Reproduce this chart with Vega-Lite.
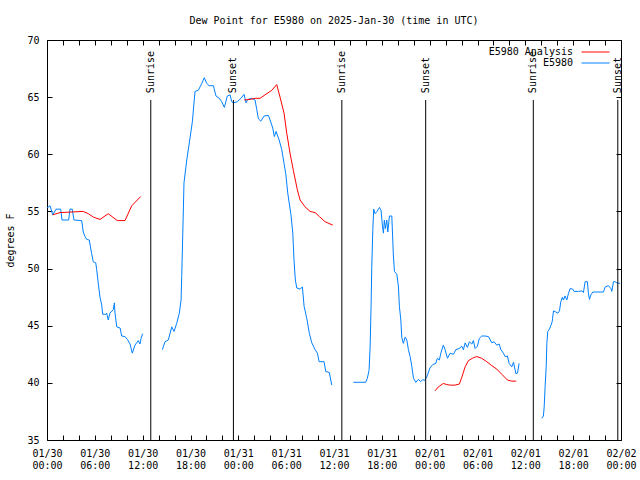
{
  "$schema": "https://vega.github.io/schema/vega-lite/v6.json",
  "width": 574,
  "height": 400,
  "autosize": "none",
  "padding": {"left": 47, "top": 40, "right": 19, "bottom": 40},
  "background": "white",
  "title": {"text": "Dew Point for E5980 on 2025-Jan-30 (time in UTC)", "font": "DejaVu Sans Mono", "fontSize": 10, "fontWeight": "normal", "anchor": "middle", "offset": 9, "color": "black"},
  "config": {
    "view": {"stroke": "black", "strokeWidth": 1},
    "axis": {"labelFont": "DejaVu Sans Mono", "labelFontSize": 10, "labelColor": "black", "titleFont": "DejaVu Sans Mono", "titleFontSize": 10, "titleFontWeight": "normal", "titleColor": "black", "domain": false, "grid": false, "tickColor": "black", "tickSize": -5, "labelFlush": false, "labelOverlap": false},
    "legend": {"orient": "none", "legendX": 543.5, "legendY": 7, "labelFont": "DejaVu Sans Mono", "labelFontSize": 10, "labelColor": "black", "labelLimit": 300, "symbolType": "M-4,0H4", "symbolSize": 49, "symbolStrokeWidth": 1, "labelAlign": "right", "labelOffset": -27.5, "padding": 0, "rowPadding": 1}
  },
  "datasets": {
    "sun": [
      {"t": "2025-01-30T13:01:00Z", "label": "Sunrise"},
      {"t": "2025-01-30T23:23:00Z", "label": "Sunset"},
      {"t": "2025-01-31T12:59:00Z", "label": "Sunrise"},
      {"t": "2025-01-31T23:30:00Z", "label": "Sunset"},
      {"t": "2025-02-01T13:00:00Z", "label": "Sunrise"},
      {"t": "2025-02-01T23:36:00Z", "label": "Sunset"}
    ],
    "obs": [
      {"t": "2025-01-30T00:00:00Z", "v": 55.3, "s": "E5980", "g": "b1"},
      {"t": "2025-01-30T00:23:00Z", "v": 55.5, "s": "E5980", "g": "b1"},
      {"t": "2025-01-30T00:43:00Z", "v": 54.7, "s": "E5980", "g": "b1"},
      {"t": "2025-01-30T01:08:00Z", "v": 55.2, "s": "E5980", "g": "b1"},
      {"t": "2025-01-30T01:43:00Z", "v": 55.2, "s": "E5980", "g": "b1"},
      {"t": "2025-01-30T01:53:00Z", "v": 54.25, "s": "E5980", "g": "b1"},
      {"t": "2025-01-30T02:43:00Z", "v": 54.25, "s": "E5980", "g": "b1"},
      {"t": "2025-01-30T02:53:00Z", "v": 55.2, "s": "E5980", "g": "b1"},
      {"t": "2025-01-30T03:10:00Z", "v": 55.2, "s": "E5980", "g": "b1"},
      {"t": "2025-01-30T03:23:00Z", "v": 54.25, "s": "E5980", "g": "b1"},
      {"t": "2025-01-30T04:21:00Z", "v": 54.2, "s": "E5980", "g": "b1"},
      {"t": "2025-01-30T04:33:00Z", "v": 53.2, "s": "E5980", "g": "b1"},
      {"t": "2025-01-30T04:46:00Z", "v": 52.8, "s": "E5980", "g": "b1"},
      {"t": "2025-01-30T04:59:00Z", "v": 52.55, "s": "E5980", "g": "b1"},
      {"t": "2025-01-30T05:18:00Z", "v": 52.5, "s": "E5980", "g": "b1"},
      {"t": "2025-01-30T05:36:00Z", "v": 51.3, "s": "E5980", "g": "b1"},
      {"t": "2025-01-30T05:48:00Z", "v": 50.6, "s": "E5980", "g": "b1"},
      {"t": "2025-01-30T06:07:00Z", "v": 50.5, "s": "E5980", "g": "b1"},
      {"t": "2025-01-30T06:14:00Z", "v": 49.9, "s": "E5980", "g": "b1"},
      {"t": "2025-01-30T06:29:00Z", "v": 48.4, "s": "E5980", "g": "b1"},
      {"t": "2025-01-30T06:39:00Z", "v": 47.5, "s": "E5980", "g": "b1"},
      {"t": "2025-01-30T06:52:00Z", "v": 46.8, "s": "E5980", "g": "b1"},
      {"t": "2025-01-30T06:59:00Z", "v": 46.0, "s": "E5980", "g": "b1"},
      {"t": "2025-01-30T07:22:00Z", "v": 46.0, "s": "E5980", "g": "b1"},
      {"t": "2025-01-30T07:29:00Z", "v": 46.1, "s": "E5980", "g": "b1"},
      {"t": "2025-01-30T07:41:00Z", "v": 45.5, "s": "E5980", "g": "b1"},
      {"t": "2025-01-30T07:54:00Z", "v": 46.1, "s": "E5980", "g": "b1"},
      {"t": "2025-01-30T08:19:00Z", "v": 46.4, "s": "E5980", "g": "b1"},
      {"t": "2025-01-30T08:27:00Z", "v": 47.0, "s": "E5980", "g": "b1"},
      {"t": "2025-01-30T08:32:00Z", "v": 46.1, "s": "E5980", "g": "b1"},
      {"t": "2025-01-30T08:45:00Z", "v": 44.9, "s": "E5980", "g": "b1"},
      {"t": "2025-01-30T09:10:00Z", "v": 44.8, "s": "E5980", "g": "b1"},
      {"t": "2025-01-30T09:22:00Z", "v": 44.1, "s": "E5980", "g": "b1"},
      {"t": "2025-01-30T09:47:00Z", "v": 44.05, "s": "E5980", "g": "b1"},
      {"t": "2025-01-30T10:05:00Z", "v": 43.8, "s": "E5980", "g": "b1"},
      {"t": "2025-01-30T10:25:00Z", "v": 43.4, "s": "E5980", "g": "b1"},
      {"t": "2025-01-30T10:42:00Z", "v": 42.6, "s": "E5980", "g": "b1"},
      {"t": "2025-01-30T11:02:00Z", "v": 43.3, "s": "E5980", "g": "b1"},
      {"t": "2025-01-30T11:27:00Z", "v": 43.7, "s": "E5980", "g": "b1"},
      {"t": "2025-01-30T11:40:00Z", "v": 43.4, "s": "E5980", "g": "b1"},
      {"t": "2025-01-30T11:48:00Z", "v": 43.9, "s": "E5980", "g": "b1"},
      {"t": "2025-01-30T12:00:00Z", "v": 44.3, "s": "E5980", "g": "b1"},
      {"t": "2025-01-30T14:28:00Z", "v": 42.9, "s": "E5980", "g": "b2"},
      {"t": "2025-01-30T14:48:00Z", "v": 43.6, "s": "E5980", "g": "b2"},
      {"t": "2025-01-30T15:13:00Z", "v": 43.75, "s": "E5980", "g": "b2"},
      {"t": "2025-01-30T15:39:00Z", "v": 44.9, "s": "E5980", "g": "b2"},
      {"t": "2025-01-30T15:56:00Z", "v": 44.5, "s": "E5980", "g": "b2"},
      {"t": "2025-01-30T16:16:00Z", "v": 45.2, "s": "E5980", "g": "b2"},
      {"t": "2025-01-30T16:36:00Z", "v": 46.1, "s": "E5980", "g": "b2"},
      {"t": "2025-01-30T16:49:00Z", "v": 47.25, "s": "E5980", "g": "b2"},
      {"t": "2025-01-30T16:54:00Z", "v": 49.3, "s": "E5980", "g": "b2"},
      {"t": "2025-01-30T17:02:00Z", "v": 53.1, "s": "E5980", "g": "b2"},
      {"t": "2025-01-30T17:11:00Z", "v": 57.5, "s": "E5980", "g": "b2"},
      {"t": "2025-01-30T17:32:00Z", "v": 59.5, "s": "E5980", "g": "b2"},
      {"t": "2025-01-30T17:51:00Z", "v": 61.0, "s": "E5980", "g": "b2"},
      {"t": "2025-01-30T18:14:00Z", "v": 62.85, "s": "E5980", "g": "b2"},
      {"t": "2025-01-30T18:34:00Z", "v": 65.5, "s": "E5980", "g": "b2"},
      {"t": "2025-01-30T18:59:00Z", "v": 65.6, "s": "E5980", "g": "b2"},
      {"t": "2025-01-30T19:25:00Z", "v": 66.2, "s": "E5980", "g": "b2"},
      {"t": "2025-01-30T19:44:00Z", "v": 66.7, "s": "E5980", "g": "b2"},
      {"t": "2025-01-30T20:02:00Z", "v": 66.2, "s": "E5980", "g": "b2"},
      {"t": "2025-01-30T20:20:00Z", "v": 66.0, "s": "E5980", "g": "b2"},
      {"t": "2025-01-30T20:52:00Z", "v": 66.0, "s": "E5980", "g": "b2"},
      {"t": "2025-01-30T21:12:00Z", "v": 65.1, "s": "E5980", "g": "b2"},
      {"t": "2025-01-30T21:37:00Z", "v": 64.9, "s": "E5980", "g": "b2"},
      {"t": "2025-01-30T21:55:00Z", "v": 64.6, "s": "E5980", "g": "b2"},
      {"t": "2025-01-30T22:15:00Z", "v": 64.1, "s": "E5980", "g": "b2"},
      {"t": "2025-01-30T22:37:00Z", "v": 65.1, "s": "E5980", "g": "b2"},
      {"t": "2025-01-30T22:58:00Z", "v": 65.2, "s": "E5980", "g": "b2"},
      {"t": "2025-01-30T23:10:00Z", "v": 64.6, "s": "E5980", "g": "b2"},
      {"t": "2025-01-30T23:23:00Z", "v": 64.5, "s": "E5980", "g": "b2"},
      {"t": "2025-01-30T23:53:00Z", "v": 64.6, "s": "E5980", "g": "b2"},
      {"t": "2025-01-31T00:20:00Z", "v": 64.9, "s": "E5980", "g": "b2"},
      {"t": "2025-01-31T00:43:00Z", "v": 65.25, "s": "E5980", "g": "b2"},
      {"t": "2025-01-31T00:58:00Z", "v": 64.5, "s": "E5980", "g": "b2"},
      {"t": "2025-01-31T01:11:00Z", "v": 64.8, "s": "E5980", "g": "b2"},
      {"t": "2025-01-31T01:41:00Z", "v": 64.9, "s": "E5980", "g": "b2"},
      {"t": "2025-01-31T02:06:00Z", "v": 64.75, "s": "E5980", "g": "b2"},
      {"t": "2025-01-31T02:19:00Z", "v": 63.9, "s": "E5980", "g": "b2"},
      {"t": "2025-01-31T02:31:00Z", "v": 63.1, "s": "E5980", "g": "b2"},
      {"t": "2025-01-31T02:49:00Z", "v": 62.9, "s": "E5980", "g": "b2"},
      {"t": "2025-01-31T03:14:00Z", "v": 63.35, "s": "E5980", "g": "b2"},
      {"t": "2025-01-31T03:46:00Z", "v": 63.4, "s": "E5980", "g": "b2"},
      {"t": "2025-01-31T03:59:00Z", "v": 63.0, "s": "E5980", "g": "b2"},
      {"t": "2025-01-31T04:19:00Z", "v": 62.3, "s": "E5980", "g": "b2"},
      {"t": "2025-01-31T04:31:00Z", "v": 61.55, "s": "E5980", "g": "b2"},
      {"t": "2025-01-31T04:44:00Z", "v": 62.0, "s": "E5980", "g": "b2"},
      {"t": "2025-01-31T05:07:00Z", "v": 61.25, "s": "E5980", "g": "b2"},
      {"t": "2025-01-31T05:27:00Z", "v": 60.4, "s": "E5980", "g": "b2"},
      {"t": "2025-01-31T05:44:00Z", "v": 59.2, "s": "E5980", "g": "b2"},
      {"t": "2025-01-31T05:57:00Z", "v": 58.3, "s": "E5980", "g": "b2"},
      {"t": "2025-01-31T06:12:00Z", "v": 56.6, "s": "E5980", "g": "b2"},
      {"t": "2025-01-31T06:35:00Z", "v": 54.8, "s": "E5980", "g": "b2"},
      {"t": "2025-01-31T06:50:00Z", "v": 53.1, "s": "E5980", "g": "b2"},
      {"t": "2025-01-31T06:59:00Z", "v": 50.75, "s": "E5980", "g": "b2"},
      {"t": "2025-01-31T07:09:00Z", "v": 49.0, "s": "E5980", "g": "b2"},
      {"t": "2025-01-31T07:20:00Z", "v": 48.3, "s": "E5980", "g": "b2"},
      {"t": "2025-01-31T07:45:00Z", "v": 48.2, "s": "E5980", "g": "b2"},
      {"t": "2025-01-31T08:02:00Z", "v": 48.4, "s": "E5980", "g": "b2"},
      {"t": "2025-01-31T08:15:00Z", "v": 46.7, "s": "E5980", "g": "b2"},
      {"t": "2025-01-31T08:35:00Z", "v": 45.65, "s": "E5980", "g": "b2"},
      {"t": "2025-01-31T08:55:00Z", "v": 44.3, "s": "E5980", "g": "b2"},
      {"t": "2025-01-31T09:13:00Z", "v": 43.5, "s": "E5980", "g": "b2"},
      {"t": "2025-01-31T09:38:00Z", "v": 42.9, "s": "E5980", "g": "b2"},
      {"t": "2025-01-31T09:55:00Z", "v": 42.6, "s": "E5980", "g": "b2"},
      {"t": "2025-01-31T10:08:00Z", "v": 41.85, "s": "E5980", "g": "b2"},
      {"t": "2025-01-31T10:45:00Z", "v": 41.85, "s": "E5980", "g": "b2"},
      {"t": "2025-01-31T10:58:00Z", "v": 41.0, "s": "E5980", "g": "b2"},
      {"t": "2025-01-31T11:25:00Z", "v": 40.9, "s": "E5980", "g": "b2"},
      {"t": "2025-01-31T11:43:00Z", "v": 39.8, "s": "E5980", "g": "b2"},
      {"t": "2025-01-31T14:26:00Z", "v": 40.05, "s": "E5980", "g": "b3"},
      {"t": "2025-01-31T15:59:00Z", "v": 40.05, "s": "E5980", "g": "b3"},
      {"t": "2025-01-31T16:11:00Z", "v": 40.4, "s": "E5980", "g": "b3"},
      {"t": "2025-01-31T16:24:00Z", "v": 41.1, "s": "E5980", "g": "b3"},
      {"t": "2025-01-31T16:32:00Z", "v": 43.2, "s": "E5980", "g": "b3"},
      {"t": "2025-01-31T16:39:00Z", "v": 46.7, "s": "E5980", "g": "b3"},
      {"t": "2025-01-31T16:44:00Z", "v": 50.0, "s": "E5980", "g": "b3"},
      {"t": "2025-01-31T16:52:00Z", "v": 53.4, "s": "E5980", "g": "b3"},
      {"t": "2025-01-31T16:59:00Z", "v": 55.2, "s": "E5980", "g": "b3"},
      {"t": "2025-01-31T17:09:00Z", "v": 54.8, "s": "E5980", "g": "b3"},
      {"t": "2025-01-31T17:24:00Z", "v": 55.0, "s": "E5980", "g": "b3"},
      {"t": "2025-01-31T17:42:00Z", "v": 55.35, "s": "E5980", "g": "b3"},
      {"t": "2025-01-31T17:54:00Z", "v": 55.1, "s": "E5980", "g": "b3"},
      {"t": "2025-01-31T18:04:00Z", "v": 53.8, "s": "E5980", "g": "b3"},
      {"t": "2025-01-31T18:12:00Z", "v": 53.1, "s": "E5980", "g": "b3"},
      {"t": "2025-01-31T18:19:00Z", "v": 54.25, "s": "E5980", "g": "b3"},
      {"t": "2025-01-31T18:27:00Z", "v": 53.5, "s": "E5980", "g": "b3"},
      {"t": "2025-01-31T18:37:00Z", "v": 54.25, "s": "E5980", "g": "b3"},
      {"t": "2025-01-31T18:45:00Z", "v": 53.2, "s": "E5980", "g": "b3"},
      {"t": "2025-01-31T18:57:00Z", "v": 54.6, "s": "E5980", "g": "b3"},
      {"t": "2025-01-31T19:15:00Z", "v": 54.6, "s": "E5980", "g": "b3"},
      {"t": "2025-01-31T19:27:00Z", "v": 51.1, "s": "E5980", "g": "b3"},
      {"t": "2025-01-31T19:35:00Z", "v": 49.75, "s": "E5980", "g": "b3"},
      {"t": "2025-01-31T19:53:00Z", "v": 49.5, "s": "E5980", "g": "b3"},
      {"t": "2025-01-31T20:05:00Z", "v": 48.4, "s": "E5980", "g": "b3"},
      {"t": "2025-01-31T20:12:00Z", "v": 46.7, "s": "E5980", "g": "b3"},
      {"t": "2025-01-31T20:23:00Z", "v": 45.5, "s": "E5980", "g": "b3"},
      {"t": "2025-01-31T20:30:00Z", "v": 44.0, "s": "E5980", "g": "b3"},
      {"t": "2025-01-31T20:42:00Z", "v": 43.45, "s": "E5980", "g": "b3"},
      {"t": "2025-01-31T20:55:00Z", "v": 44.0, "s": "E5980", "g": "b3"},
      {"t": "2025-01-31T21:08:00Z", "v": 43.75, "s": "E5980", "g": "b3"},
      {"t": "2025-01-31T21:20:00Z", "v": 42.9, "s": "E5980", "g": "b3"},
      {"t": "2025-01-31T21:33:00Z", "v": 42.3, "s": "E5980", "g": "b3"},
      {"t": "2025-01-31T21:46:00Z", "v": 41.4, "s": "E5980", "g": "b3"},
      {"t": "2025-01-31T21:58:00Z", "v": 40.4, "s": "E5980", "g": "b3"},
      {"t": "2025-01-31T22:16:00Z", "v": 40.05, "s": "E5980", "g": "b3"},
      {"t": "2025-01-31T22:35:00Z", "v": 40.3, "s": "E5980", "g": "b3"},
      {"t": "2025-01-31T22:53:00Z", "v": 40.1, "s": "E5980", "g": "b3"},
      {"t": "2025-01-31T23:08:00Z", "v": 40.3, "s": "E5980", "g": "b3"},
      {"t": "2025-01-31T23:20:00Z", "v": 40.2, "s": "E5980", "g": "b3"},
      {"t": "2025-01-31T23:38:00Z", "v": 40.5, "s": "E5980", "g": "b3"},
      {"t": "2025-02-01T00:02:00Z", "v": 41.3, "s": "E5980", "g": "b3"},
      {"t": "2025-02-01T00:23:00Z", "v": 41.6, "s": "E5980", "g": "b3"},
      {"t": "2025-02-01T00:46:00Z", "v": 41.7, "s": "E5980", "g": "b3"},
      {"t": "2025-02-01T00:58:00Z", "v": 42.15, "s": "E5980", "g": "b3"},
      {"t": "2025-02-01T01:13:00Z", "v": 42.0, "s": "E5980", "g": "b3"},
      {"t": "2025-02-01T01:24:00Z", "v": 42.6, "s": "E5980", "g": "b3"},
      {"t": "2025-02-01T01:43:00Z", "v": 43.3, "s": "E5980", "g": "b3"},
      {"t": "2025-02-01T01:56:00Z", "v": 42.9, "s": "E5980", "g": "b3"},
      {"t": "2025-02-01T02:14:00Z", "v": 42.15, "s": "E5980", "g": "b3"},
      {"t": "2025-02-01T02:34:00Z", "v": 42.6, "s": "E5980", "g": "b3"},
      {"t": "2025-02-01T02:59:00Z", "v": 42.5, "s": "E5980", "g": "b3"},
      {"t": "2025-02-01T03:17:00Z", "v": 42.9, "s": "E5980", "g": "b3"},
      {"t": "2025-02-01T03:41:00Z", "v": 43.0, "s": "E5980", "g": "b3"},
      {"t": "2025-02-01T04:02:00Z", "v": 43.2, "s": "E5980", "g": "b3"},
      {"t": "2025-02-01T04:14:00Z", "v": 42.9, "s": "E5980", "g": "b3"},
      {"t": "2025-02-01T04:27:00Z", "v": 43.5, "s": "E5980", "g": "b3"},
      {"t": "2025-02-01T04:44:00Z", "v": 43.1, "s": "E5980", "g": "b3"},
      {"t": "2025-02-01T04:59:00Z", "v": 43.6, "s": "E5980", "g": "b3"},
      {"t": "2025-02-01T05:17:00Z", "v": 43.4, "s": "E5980", "g": "b3"},
      {"t": "2025-02-01T05:29:00Z", "v": 43.7, "s": "E5980", "g": "b3"},
      {"t": "2025-02-01T05:42:00Z", "v": 43.0, "s": "E5980", "g": "b3"},
      {"t": "2025-02-01T05:59:00Z", "v": 43.2, "s": "E5980", "g": "b3"},
      {"t": "2025-02-01T06:14:00Z", "v": 43.9, "s": "E5980", "g": "b3"},
      {"t": "2025-02-01T06:32:00Z", "v": 44.1, "s": "E5980", "g": "b3"},
      {"t": "2025-02-01T06:57:00Z", "v": 44.1, "s": "E5980", "g": "b3"},
      {"t": "2025-02-01T07:22:00Z", "v": 44.05, "s": "E5980", "g": "b3"},
      {"t": "2025-02-01T07:48:00Z", "v": 43.5, "s": "E5980", "g": "b3"},
      {"t": "2025-02-01T08:05:00Z", "v": 43.6, "s": "E5980", "g": "b3"},
      {"t": "2025-02-01T08:25:00Z", "v": 43.3, "s": "E5980", "g": "b3"},
      {"t": "2025-02-01T08:43:00Z", "v": 43.4, "s": "E5980", "g": "b3"},
      {"t": "2025-02-01T08:56:00Z", "v": 42.9, "s": "E5980", "g": "b3"},
      {"t": "2025-02-01T09:15:00Z", "v": 42.6, "s": "E5980", "g": "b3"},
      {"t": "2025-02-01T09:28:00Z", "v": 42.3, "s": "E5980", "g": "b3"},
      {"t": "2025-02-01T09:45:00Z", "v": 42.35, "s": "E5980", "g": "b3"},
      {"t": "2025-02-01T09:58:00Z", "v": 41.7, "s": "E5980", "g": "b3"},
      {"t": "2025-02-01T10:18:00Z", "v": 41.4, "s": "E5980", "g": "b3"},
      {"t": "2025-02-01T10:31:00Z", "v": 41.8, "s": "E5980", "g": "b3"},
      {"t": "2025-02-01T10:49:00Z", "v": 40.8, "s": "E5980", "g": "b3"},
      {"t": "2025-02-01T11:01:00Z", "v": 40.85, "s": "E5980", "g": "b3"},
      {"t": "2025-02-01T11:13:00Z", "v": 41.7, "s": "E5980", "g": "b3"},
      {"t": "2025-02-01T14:04:00Z", "v": 36.9, "s": "E5980", "g": "b4"},
      {"t": "2025-02-01T14:16:00Z", "v": 37.1, "s": "E5980", "g": "b4"},
      {"t": "2025-02-01T14:22:00Z", "v": 37.9, "s": "E5980", "g": "b4"},
      {"t": "2025-02-01T14:29:00Z", "v": 39.7, "s": "E5980", "g": "b4"},
      {"t": "2025-02-01T14:37:00Z", "v": 41.4, "s": "E5980", "g": "b4"},
      {"t": "2025-02-01T14:42:00Z", "v": 43.45, "s": "E5980", "g": "b4"},
      {"t": "2025-02-01T14:49:00Z", "v": 44.5, "s": "E5980", "g": "b4"},
      {"t": "2025-02-01T15:01:00Z", "v": 44.7, "s": "E5980", "g": "b4"},
      {"t": "2025-02-01T15:12:00Z", "v": 45.0, "s": "E5980", "g": "b4"},
      {"t": "2025-02-01T15:22:00Z", "v": 45.35, "s": "E5980", "g": "b4"},
      {"t": "2025-02-01T15:32:00Z", "v": 46.3, "s": "E5980", "g": "b4"},
      {"t": "2025-02-01T15:50:00Z", "v": 46.2, "s": "E5980", "g": "b4"},
      {"t": "2025-02-01T16:05:00Z", "v": 46.1, "s": "E5980", "g": "b4"},
      {"t": "2025-02-01T16:17:00Z", "v": 46.3, "s": "E5980", "g": "b4"},
      {"t": "2025-02-01T16:27:00Z", "v": 47.1, "s": "E5980", "g": "b4"},
      {"t": "2025-02-01T16:39:00Z", "v": 47.5, "s": "E5980", "g": "b4"},
      {"t": "2025-02-01T16:47:00Z", "v": 47.25, "s": "E5980", "g": "b4"},
      {"t": "2025-02-01T16:59:00Z", "v": 47.6, "s": "E5980", "g": "b4"},
      {"t": "2025-02-01T17:12:00Z", "v": 47.25, "s": "E5980", "g": "b4"},
      {"t": "2025-02-01T17:24:00Z", "v": 47.8, "s": "E5980", "g": "b4"},
      {"t": "2025-02-01T17:37:00Z", "v": 48.25, "s": "E5980", "g": "b4"},
      {"t": "2025-02-01T17:57:00Z", "v": 48.2, "s": "E5980", "g": "b4"},
      {"t": "2025-02-01T18:07:00Z", "v": 48.0, "s": "E5980", "g": "b4"},
      {"t": "2025-02-01T18:40:00Z", "v": 48.0, "s": "E5980", "g": "b4"},
      {"t": "2025-02-01T19:05:00Z", "v": 48.05, "s": "E5980", "g": "b4"},
      {"t": "2025-02-01T19:17:00Z", "v": 47.9, "s": "E5980", "g": "b4"},
      {"t": "2025-02-01T19:30:00Z", "v": 48.85, "s": "E5980", "g": "b4"},
      {"t": "2025-02-01T19:47:00Z", "v": 48.85, "s": "E5980", "g": "b4"},
      {"t": "2025-02-01T19:55:00Z", "v": 47.8, "s": "E5980", "g": "b4"},
      {"t": "2025-02-01T20:03:00Z", "v": 47.3, "s": "E5980", "g": "b4"},
      {"t": "2025-02-01T20:13:00Z", "v": 47.7, "s": "E5980", "g": "b4"},
      {"t": "2025-02-01T20:28:00Z", "v": 47.95, "s": "E5980", "g": "b4"},
      {"t": "2025-02-01T21:48:00Z", "v": 47.95, "s": "E5980", "g": "b4"},
      {"t": "2025-02-01T22:01:00Z", "v": 48.4, "s": "E5980", "g": "b4"},
      {"t": "2025-02-01T22:26:00Z", "v": 48.5, "s": "E5980", "g": "b4"},
      {"t": "2025-02-01T22:44:00Z", "v": 48.25, "s": "E5980", "g": "b4"},
      {"t": "2025-02-01T22:51:00Z", "v": 48.0, "s": "E5980", "g": "b4"},
      {"t": "2025-02-01T23:03:00Z", "v": 48.85, "s": "E5980", "g": "b4"},
      {"t": "2025-02-01T23:16:00Z", "v": 48.85, "s": "E5980", "g": "b4"},
      {"t": "2025-02-01T23:29:00Z", "v": 48.75, "s": "E5980", "g": "b4"},
      {"t": "2025-02-01T23:53:00Z", "v": 48.7, "s": "E5980", "g": "b4"},
      {"t": "2025-01-30T00:43:00Z", "v": 54.7, "s": "E5980 Analysis", "g": "r1"},
      {"t": "2025-01-30T01:38:00Z", "v": 54.9, "s": "E5980 Analysis", "g": "r1"},
      {"t": "2025-01-30T04:33:00Z", "v": 55.0, "s": "E5980 Analysis", "g": "r1"},
      {"t": "2025-01-30T05:11:00Z", "v": 54.8, "s": "E5980 Analysis", "g": "r1"},
      {"t": "2025-01-30T05:49:00Z", "v": 54.5, "s": "E5980 Analysis", "g": "r1"},
      {"t": "2025-01-30T06:39:00Z", "v": 54.3, "s": "E5980 Analysis", "g": "r1"},
      {"t": "2025-01-30T07:41:00Z", "v": 54.8, "s": "E5980 Analysis", "g": "r1"},
      {"t": "2025-01-30T08:49:00Z", "v": 54.2, "s": "E5980 Analysis", "g": "r1"},
      {"t": "2025-01-30T09:47:00Z", "v": 54.2, "s": "E5980 Analysis", "g": "r1"},
      {"t": "2025-01-30T10:38:00Z", "v": 55.5, "s": "E5980 Analysis", "g": "r1"},
      {"t": "2025-01-30T11:45:00Z", "v": 56.3, "s": "E5980 Analysis", "g": "r1"},
      {"t": "2025-01-31T00:45:00Z", "v": 64.75, "s": "E5980 Analysis", "g": "r2"},
      {"t": "2025-01-31T01:28:00Z", "v": 64.8, "s": "E5980 Analysis", "g": "r2"},
      {"t": "2025-01-31T02:06:00Z", "v": 64.9, "s": "E5980 Analysis", "g": "r2"},
      {"t": "2025-01-31T02:44:00Z", "v": 64.9, "s": "E5980 Analysis", "g": "r2"},
      {"t": "2025-01-31T03:21:00Z", "v": 65.2, "s": "E5980 Analysis", "g": "r2"},
      {"t": "2025-01-31T04:12:00Z", "v": 65.6, "s": "E5980 Analysis", "g": "r2"},
      {"t": "2025-01-31T04:49:00Z", "v": 66.1, "s": "E5980 Analysis", "g": "r2"},
      {"t": "2025-01-31T05:14:00Z", "v": 65.0, "s": "E5980 Analysis", "g": "r2"},
      {"t": "2025-01-31T05:44:00Z", "v": 63.6, "s": "E5980 Analysis", "g": "r2"},
      {"t": "2025-01-31T06:05:00Z", "v": 61.8, "s": "E5980 Analysis", "g": "r2"},
      {"t": "2025-01-31T06:29:00Z", "v": 60.1, "s": "E5980 Analysis", "g": "r2"},
      {"t": "2025-01-31T06:54:00Z", "v": 58.6, "s": "E5980 Analysis", "g": "r2"},
      {"t": "2025-01-31T07:24:00Z", "v": 56.9, "s": "E5980 Analysis", "g": "r2"},
      {"t": "2025-01-31T07:45:00Z", "v": 56.0, "s": "E5980 Analysis", "g": "r2"},
      {"t": "2025-01-31T08:22:00Z", "v": 55.4, "s": "E5980 Analysis", "g": "r2"},
      {"t": "2025-01-31T09:00:00Z", "v": 55.0, "s": "E5980 Analysis", "g": "r2"},
      {"t": "2025-01-31T09:38:00Z", "v": 54.9, "s": "E5980 Analysis", "g": "r2"},
      {"t": "2025-01-31T10:10:00Z", "v": 54.55, "s": "E5980 Analysis", "g": "r2"},
      {"t": "2025-01-31T10:53:00Z", "v": 54.1, "s": "E5980 Analysis", "g": "r2"},
      {"t": "2025-01-31T11:51:00Z", "v": 53.8, "s": "E5980 Analysis", "g": "r2"},
      {"t": "2025-02-01T00:41:00Z", "v": 39.3, "s": "E5980 Analysis", "g": "r3"},
      {"t": "2025-02-01T01:06:00Z", "v": 39.65, "s": "E5980 Analysis", "g": "r3"},
      {"t": "2025-02-01T01:43:00Z", "v": 39.95, "s": "E5980 Analysis", "g": "r3"},
      {"t": "2025-02-01T02:09:00Z", "v": 39.85, "s": "E5980 Analysis", "g": "r3"},
      {"t": "2025-02-01T02:34:00Z", "v": 39.8, "s": "E5980 Analysis", "g": "r3"},
      {"t": "2025-02-01T03:11:00Z", "v": 39.8, "s": "E5980 Analysis", "g": "r3"},
      {"t": "2025-02-01T03:44:00Z", "v": 39.9, "s": "E5980 Analysis", "g": "r3"},
      {"t": "2025-02-01T04:02:00Z", "v": 40.5, "s": "E5980 Analysis", "g": "r3"},
      {"t": "2025-02-01T04:27:00Z", "v": 41.4, "s": "E5980 Analysis", "g": "r3"},
      {"t": "2025-02-01T04:52:00Z", "v": 41.95, "s": "E5980 Analysis", "g": "r3"},
      {"t": "2025-02-01T05:29:00Z", "v": 42.2, "s": "E5980 Analysis", "g": "r3"},
      {"t": "2025-02-01T05:55:00Z", "v": 42.3, "s": "E5980 Analysis", "g": "r3"},
      {"t": "2025-02-01T06:32:00Z", "v": 42.15, "s": "E5980 Analysis", "g": "r3"},
      {"t": "2025-02-01T07:10:00Z", "v": 41.85, "s": "E5980 Analysis", "g": "r3"},
      {"t": "2025-02-01T07:48:00Z", "v": 41.5, "s": "E5980 Analysis", "g": "r3"},
      {"t": "2025-02-01T08:25:00Z", "v": 41.2, "s": "E5980 Analysis", "g": "r3"},
      {"t": "2025-02-01T09:03:00Z", "v": 40.75, "s": "E5980 Analysis", "g": "r3"},
      {"t": "2025-02-01T09:45:00Z", "v": 40.25, "s": "E5980 Analysis", "g": "r3"},
      {"t": "2025-02-01T10:18:00Z", "v": 40.15, "s": "E5980 Analysis", "g": "r3"},
      {"t": "2025-02-01T10:51:00Z", "v": 40.15, "s": "E5980 Analysis", "g": "r3"}
    ]
  },
  "resolve": {"axis": {"x": "independent", "y": "independent"}},
  "layer": [
    {
      "data": {"name": "obs"},
      "mark": {"type": "line", "strokeWidth": 1},
      "encoding": {
        "x": {"field": "t", "type": "temporal",
          "scale": {"type": "utc", "domain": [1738195200000, 1738454400000]},
          "axis": {"orient": "bottom", "title": null, "format": "%m/%d %H:%M", "labelPadding": 13, "labelBaseline": "top", "labelLineHeight": 12, "tickCount": 40,
            "labelExpr": "utchours(datum.value) % 6 == 0 ? split(datum.label, ' ') : ''",
            "values": [1738195200000, 1738202400000, 1738209600000, 1738216800000, 1738224000000, 1738231200000, 1738238400000, 1738245600000, 1738252800000, 1738260000000, 1738267200000, 1738274400000, 1738281600000, 1738288800000, 1738296000000, 1738303200000, 1738310400000, 1738317600000, 1738324800000, 1738332000000, 1738339200000, 1738346400000, 1738353600000, 1738360800000, 1738368000000, 1738375200000, 1738382400000, 1738389600000, 1738396800000, 1738404000000, 1738411200000, 1738418400000, 1738425600000, 1738432800000, 1738440000000, 1738447200000, 1738454400000]}},
        "y": {"field": "v", "type": "quantitative",
          "scale": {"domain": [35, 70], "nice": false, "zero": false},
          "axis": {"orient": "left", "title": "degrees F", "values": [35, 40, 45, 50, 55, 60, 65, 70], "labelPadding": 13, "titlePadding": 11}},
        "color": {"field": "s", "type": "nominal",
          "scale": {"domain": ["E5980 Analysis", "E5980"], "range": ["#ff0000", "#0080ff"]},
          "legend": {"title": null}},
        "detail": {"field": "g"}
      }
    },
    {
      "data": {"name": "obs"},
      "mark": {"type": "line", "strokeWidth": 1, "strokeOpacity": 0},
      "encoding": {
        "x": {"field": "t", "type": "temporal",
          "axis": {"orient": "top", "title": null, "labels": false, "tickCount": 40,
            "values": [1738195200000, 1738202400000, 1738209600000, 1738216800000, 1738224000000, 1738231200000, 1738238400000, 1738245600000, 1738252800000, 1738260000000, 1738267200000, 1738274400000, 1738281600000, 1738288800000, 1738296000000, 1738303200000, 1738310400000, 1738317600000, 1738324800000, 1738332000000, 1738339200000, 1738346400000, 1738353600000, 1738360800000, 1738368000000, 1738375200000, 1738382400000, 1738389600000, 1738396800000, 1738404000000, 1738411200000, 1738418400000, 1738425600000, 1738432800000, 1738440000000, 1738447200000, 1738454400000]}},
        "y": {"field": "v", "type": "quantitative",
          "axis": {"orient": "right", "title": null, "labels": false, "values": [35, 40, 45, 50, 55, 60, 65, 70]}},
        "detail": {"field": "g"}
      }
    },
    {
      "data": {"name": "sun"},
      "mark": {"type": "rule", "color": "black", "strokeWidth": 1},
      "encoding": {
        "x": {"field": "t", "type": "temporal", "axis": null},
        "y": {"datum": 35, "axis": null},
        "y2": {"datum": 64.75}
      }
    },
    {
      "data": {"name": "sun"},
      "mark": {"type": "text", "angle": 270, "align": "left", "baseline": "middle", "font": "DejaVu Sans Mono", "fontSize": 10, "color": "black"},
      "encoding": {
        "x": {"field": "t", "type": "temporal", "axis": null},
        "y": {"datum": 65.35, "axis": null},
        "text": {"field": "label"}
      }
    }
  ]
}
